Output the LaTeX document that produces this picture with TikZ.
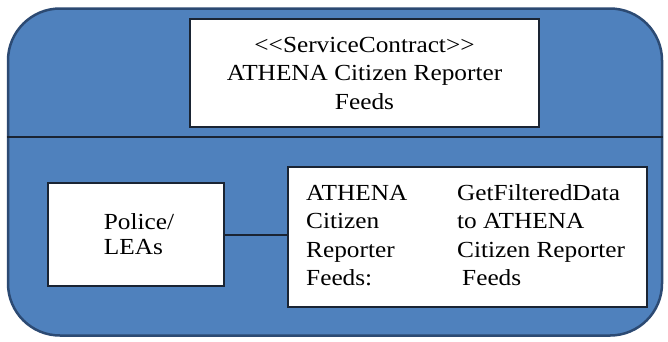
\documentclass[tikz,border=0pt]{standalone}
\usepackage{fontspec}
\newfontfamily\diagserif{Liberation Serif}[FakeStretch=1.1]
\definecolor{bluefill}{HTML}{4F81BD}
\definecolor{blueedge}{HTML}{2C4A73}
\definecolor{boxedge}{HTML}{1A2433}
\begin{document}
\begin{tikzpicture}[x=1pt,y=-1pt,
  outerbox/.style={draw=blueedge,fill=bluefill,line width=2.5pt,rounded corners=52pt},
  whitebox/.style={draw=boxedge,fill=white,line width=2pt,inner sep=0pt},
  txt/.style={font=\diagserif\fontsize{23}{28.5}\selectfont,inner sep=0pt},
  link/.style={draw=boxedge,line width=2pt}]
\useasboundingbox (0,0) rectangle (668,341);
\node[outerbox,minimum width=654pt,minimum height=327pt,inner sep=0pt] (outer) at (335,172) {};
\coordinate (dl) at (outer.west |- 0,137);
\coordinate (dr) at (outer.east |- 0,137);
\draw[link] (dl) -- (dr);
\node[whitebox,minimum width=349pt,minimum height=108pt] (contract) at (364.5,73) {};
\node[txt,align=center] (contracttext) at (364.5,73) {<<ServiceContract>>\\ATHENA Citizen Reporter\\Feeds};
\node[whitebox,minimum width=176pt,minimum height=103pt] (police) at (136,234.5) {};
\node[txt,align=left,font=\diagserif\fontsize{23}{25}\selectfont] (policetext) at (139,234.5) {Police/\\LEAs};
\node[whitebox,minimum width=359pt,minimum height=140pt] (feeds) at (467.5,237) {};
\node[txt,anchor=west] (feedstext) at (306,237.5) {\begin{tabular}{@{}p{151pt}@{}l@{}}ATHENA & GetFilteredData\\Citizen & to ATHENA\\Reporter & Citizen Reporter\\Feeds: & \hspace{5pt}Feeds\end{tabular}};
\draw[link] (police.east) -- (police.east -| feeds.west);
\end{tikzpicture}
\end{document}
